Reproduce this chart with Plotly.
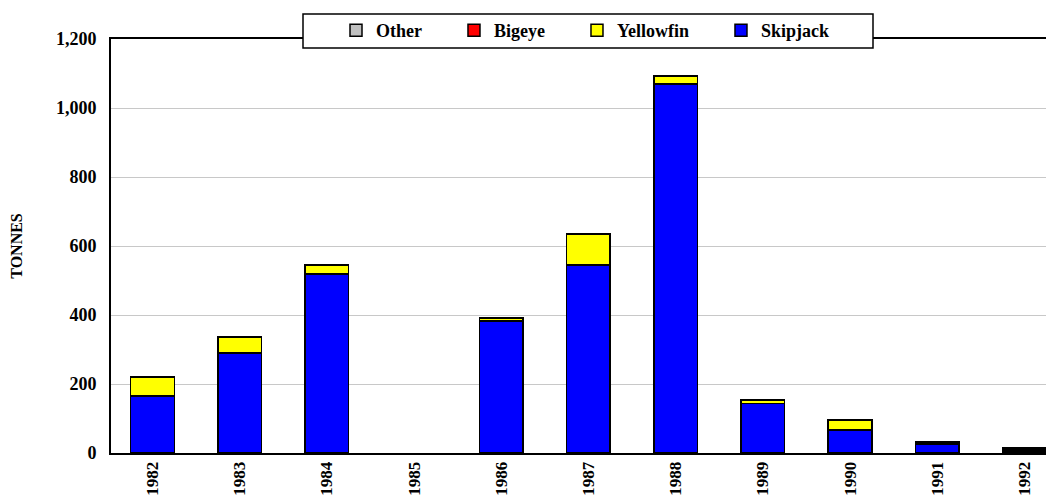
import plotly.graph_objects as go

years = ["1982", "1983", "1984", "1985", "1986", "1987", "1988", "1989", "1990", "1991", "1992"]
skipjack = [165, 290, 519, 0, 383, 545, 1070, 144, 67, 25, 6]
yellowfin = [55, 46, 26, 0, 9, 90, 23, 10, 29, 4, 3]
bigeye = [0, 0, 0, 0, 0, 0, 0, 0, 0, 2, 3]
other = [0, 0, 0, 0, 0, 0, 0, 1, 0, 3, 3]

FONT = "Liberation Serif"
NB = "\u00a0"

# page body has an 8px margin: draw the figure 8px smaller and shift coordinates
OFF = 8
W, H = 1054 - OFF, 495 - OFF
ML, MR, MT, MB = 111 - OFF, 0, 39 - OFF, 42
PW, PH = W - ML - MR, H - MT - MB


def px_x(p):
    return (p - OFF - ML) / PW


def px_y(p):
    return (H - MB - (p - OFF)) / PH


fig = go.Figure()
series = [
    ("Skipjack", skipjack, "#0000ff"),
    ("Yellowfin", yellowfin, "#ffff00"),
    ("Bigeye", bigeye, "#ff0000"),
    ("Other", other, "#c0c0c0"),
]
for name, vals, col in series:
    fig.add_trace(go.Bar(
        x=years, y=[v if v else None for v in vals], name=name + NB * 6,
        marker=dict(color=col, line=dict(color="black", width=1.5)),
        width=0.5,
    ))

# legend frame
fig.add_shape(type="rect", xref="paper", yref="paper",
              x0=px_x(303), x1=px_x(873), y0=px_y(48), y1=px_y(14),
              fillcolor="white", line=dict(color="black", width=1.5), layer="above")

fig.update_layout(
    barmode="stack",
    width=W, height=H,
    margin=dict(l=ML, r=MR, t=MT, b=MB, autoexpand=False),
    paper_bgcolor="white", plot_bgcolor="white",
    font=dict(family=FONT, color="black"),
    showlegend=True,
    legend=dict(
        orientation="h", traceorder="reversed",
        x=px_x(336), xanchor="left", y=px_y(12), yanchor="top",
        bgcolor="rgba(0,0,0,0)", borderwidth=0,
        font=dict(family=FONT, size=18, weight="bold", color="black"),
        itemclick=False,
    ),
    xaxis=dict(
        type="category", automargin=False,
        range=[-0.476, 10.34],
        showline=True, linecolor="black", linewidth=2, mirror=True,
        ticks="", tickangle=-90, ticklabelstandoff=0,
        tickfont=dict(family=FONT, size=17, weight="bold", color="black"),
        showgrid=False,
    ),
    yaxis=dict(
        automargin=False,
        range=[0, 1200],
        tickvals=[0, 200, 400, 600, 800, 1000, 1200],
        tickformat=",",
        showline=True, linecolor="black", linewidth=2,
        showgrid=True, gridcolor="#c8c8c8", gridwidth=1,
        ticks="", ticklen=0, ticklabelstandoff=9,
        tickfont=dict(family=FONT, size=18, weight="bold", color="black"),
        title=dict(text="TONNES", standoff=34,
                   font=dict(family=FONT, size=16, weight="bold", color="black")),
        zeroline=False,
    ),
)

fig.write_html("out.html")
